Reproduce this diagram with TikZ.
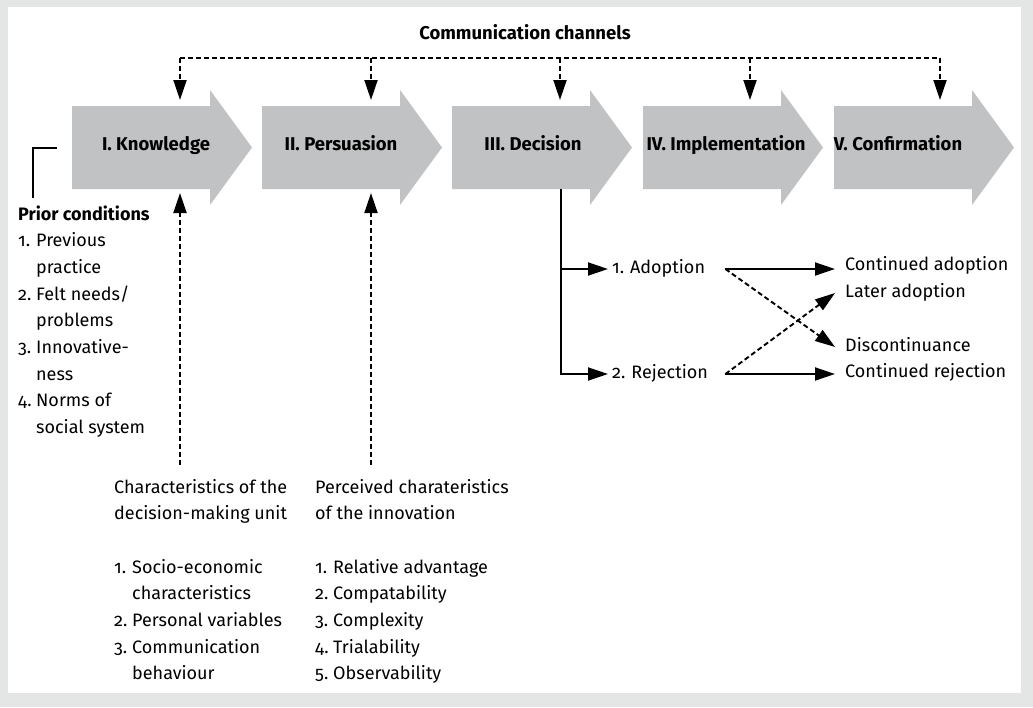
\documentclass[tikz,border=0pt]{standalone}
\usepackage{fontspec}
\setmainfont{Fira Sans}[Numbers={OldStyle,Proportional}]
\usetikzlibrary{arrows.meta,calc}
\frenchspacing
\definecolor{framegray}{HTML}{E4E5E5}
\definecolor{stagegray}{HTML}{C1C2C4}
\newcommand\nb[1]{\makebox[18pt][l]{#1}}
\tikzset{
  stagearrow/.style={fill=stagegray, draw=none},
  stagelabel/.style={font=\bfseries\fontsize{18.5}{22}\selectfont, anchor=base, inner sep=0pt},
  coltext/.style={font=\fontsize{18}{26.7}\selectfont, anchor=base west, inner sep=0pt},
  lab/.style={font=\fontsize{18}{22}\selectfont, anchor=west, inner sep=0pt, text height=12pt, text depth=4pt, align=left},
  conn/.style={line width=1.9pt},
  dconn/.style={line width=1.9pt, dash pattern=on 5pt off 3pt},
  tipped/.style={-{Triangle[length=20pt,width=13pt]}},
}
\begin{document}
\begin{tikzpicture}[x=1pt,y=-1pt]
\useasboundingbox (0,0) rectangle (1033,707);
\fill[framegray] (0,0) rectangle (1033,707);
\fill[white] (8,7) rectangle (1021,693);

% stage arrows
\foreach \xl in {72,262,452,643,834}{
  \fill[stagearrow] (\xl,106) -- (\xl+138,106) -- (\xl+138,90) -- (\xl+180,147.5)
    -- (\xl+138,205) -- (\xl+138,189) -- (\xl,189) -- cycle;
}
\node[stagelabel] (know) at (156,150) {I.\ Knowledge};
\node[stagelabel] (pers) at (341,150) {II.\ Persuasion};
\node[stagelabel] (deci) at (533,150) {III.\ Decision};
\node[stagelabel] (impl) at (726,150) {IV.\ Implementation};
\node[stagelabel] (conf) at (898,150) {V.\ Confirmation};

% communication channels
\node[stagelabel] (cc) at (525,39) {Communication channels};
\coordinate (c1) at (180,58);
\coordinate (c2) at (371,58);
\coordinate (c3) at (560,58);
\coordinate (c4) at (750,58);
\coordinate (c5) at (940,58);
\coordinate (t1) at (180,100);
\coordinate (t2) at (371,100);
\coordinate (t3) at (560,100);
\coordinate (t4) at (750,100);
\coordinate (t5) at (940,100);
\draw[dconn] (c1) -- (c5);
\foreach \i in {1,...,5}{ \draw[dconn,tipped] (c\i) -- (t\i); }

% prior conditions
\coordinate (br-top) at (57,148);
\coordinate (br-bot) at (33,198);
\draw[conn] (br-bot) |- (br-top);
\node[coltext] (prior) at (18,220) {\begin{tabular}[t]{@{}l@{}}
\textbf{Prior conditions}\\
\nb{1.}Previous\\
\nb{}practice\\
\nb{2.}Felt needs/\\
\nb{}problems\\
\nb{3.}Innovative-\\
\nb{}ness\\
\nb{4.}Norms of\\
\nb{}social system
\end{tabular}};

% decision-making unit
\node[coltext] (dmu) at (114,493) {\begin{tabular}[t]{@{}l@{}}
Characteristics of the\\
decision-making unit\\
\\
\nb{1.}Socio-economic\\
\nb{}characteristics\\
\nb{2.}Personal variables\\
\nb{3.}Communication\\
\nb{}behaviour
\end{tabular}};
\node[coltext] (inno) at (315,493) {\begin{tabular}[t]{@{}l@{}}
Perceived charateristics\\
of the innovation\\
\\
\nb{1.}Relative advantage\\
\nb{2.}Compatability\\
\nb{3.}Complexity\\
\nb{4.}Trialability\\
\nb{5.}Observability
\end{tabular}};
\coordinate (k-from) at (180,465);
\coordinate (k-to) at (180,193);
\coordinate (p-from) at (371,465);
\coordinate (p-to) at (371,193);
\draw[dconn,tipped] (k-from) -- (k-to);
\draw[dconn,tipped] (p-from) -- (p-to);

% decision branches
\node[lab, text width=100pt] (adopt) at (612,269) {1.\ Adoption};
\node[lab, text width=100pt] (reject) at (612,374) {2.\ Rejection};
\node[lab] (contad) at (845,266) {Continued adoption};
\node[lab] (later) at (845,293) {Later adoption};
\node[lab] (disc) at (845,347) {Discontinuance};
\node[lab] (contrej) at (845,373) {Continued rejection};
\coordinate (dec-down) at (561,189);
\draw[conn,tipped] (dec-down) |- ([xshift=-4pt]adopt.west);
\draw[conn,tipped] (dec-down) |- ([xshift=-4pt]reject.west);
\draw[conn,tipped] ([xshift=13pt]adopt.east) -- ([xshift=-10pt]adopt.east -| contad.west);
\draw[dconn,tipped] ([xshift=13pt]adopt.east) -- ([xshift=-10pt]disc.west);
\draw[dconn,tipped] ([xshift=13pt]reject.east) -- ([xshift=-10pt]later.west);
\draw[conn,tipped] ([xshift=13pt]reject.east) -- ([xshift=-10pt]reject.east -| contrej.west);
\end{tikzpicture}
\end{document}
